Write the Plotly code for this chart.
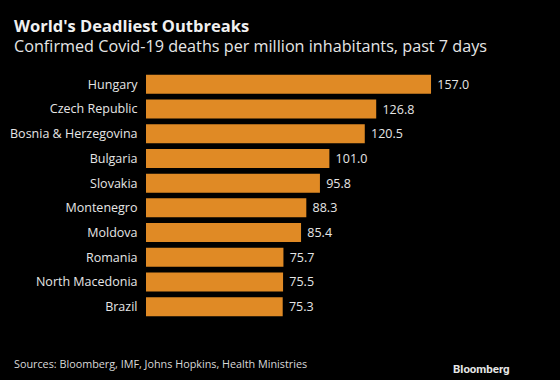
import plotly.graph_objects as go

countries = ["Hungary", "Czech Republic", "Bosnia & Herzegovina", "Bulgaria", "Slovakia",
             "Montenegro", "Moldova", "Romania", "North Macedonia", "Brazil"]
deaths = [157.0, 126.8, 120.5, 101.0, 95.8, 88.3, 85.4, 75.7, 75.5, 75.3]

W, H = 560, 380
L, R, T, B = 146, 40, 72, 61

fig = go.Figure(go.Bar(
    x=deaths, y=countries, orientation="h",
    marker=dict(color="#e08a25", line=dict(width=0)),
    width=0.77,
    texttemplate=" %{x:.1f}", textposition="outside",
    textfont=dict(color="#e6e6e6", size=12.5, family="Open Sans"),
    cliponaxis=False,
))

def px2paper(px, py):
    return (px - L) / (W - L - R), 1 - (py - T) / (H - T - B)

anns = [
    ("<b>World's Deadliest Outbreaks</b>", 12, 25, "left", 16.5, "#f0f0f0", "Open Sans"),
    ("Confirmed Covid-19 deaths per million inhabitants, past 7 days", 12, 46, "left", 16.2, "#e6e6e6", "Open Sans"),
    ("Sources: Bloomberg, IMF, Johns Hopkins, Health Ministries", 12, 363, "left", 10.8, "#d9d9d9", "Open Sans"),
    ("<b>Bloomberg</b>", 512, 369, "right", 11.5, "#e6e6e6", "Roboto"),
]
annotations = []
for text, px, py, anchor, size, color, fam in anns:
    x, y = px2paper(px, py)
    annotations.append(dict(text=text, x=x, y=y, xref="paper", yref="paper",
                            showarrow=False, xanchor=anchor, yanchor="middle",
                            font=dict(size=size, color=color, family=fam)))

fig.update_layout(
    width=W, height=H,
    paper_bgcolor="black", plot_bgcolor="black",
    margin=dict(l=L, r=R, t=T, b=B, autoexpand=False),
    showlegend=False,
    font=dict(family="Open Sans", color="#e6e6e6"),
    xaxis=dict(range=[0, 206], visible=False, showgrid=False, zeroline=False),
    yaxis=dict(autorange="reversed", showgrid=False, zeroline=False, showline=False,
               automargin=False,
               ticks="outside", ticklen=5, tickcolor="black",
               tickfont=dict(size=12.5, color="#e6e6e6", family="Open Sans")),
    annotations=annotations,
)

fig.write_html("out.html", config={"displayModeBar": False},
               post_script="document.body.style.margin='0';")
